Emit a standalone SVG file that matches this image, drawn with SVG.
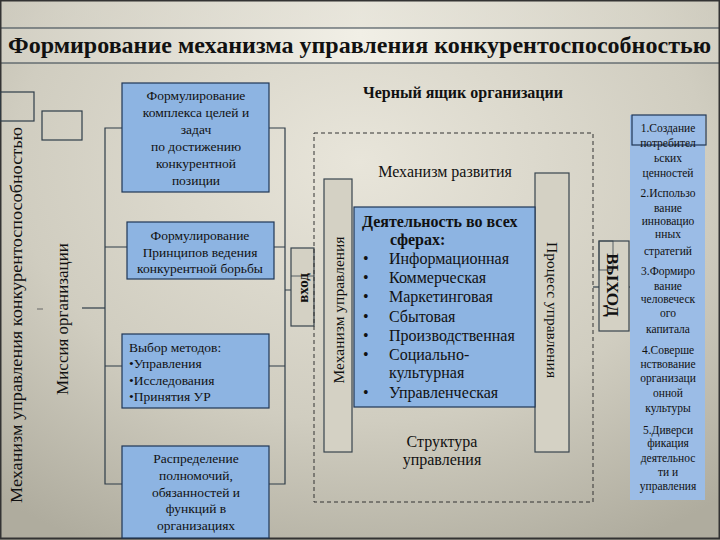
<svg xmlns="http://www.w3.org/2000/svg" width="720" height="540" viewBox="0 0 720 540" font-family="'Liberation Serif', 'Times New Roman', 'DejaVu Serif', serif">
<defs>
<radialGradient id="bg" cx="0.5" cy="0.3" r="0.8">
<stop offset="0" stop-color="#e8e5da"/>
<stop offset="0.6" stop-color="#d0cdc0"/>
<stop offset="1" stop-color="#afac9e"/>
</radialGradient>
<linearGradient id="band" x1="0" y1="0" x2="1" y2="0">
<stop offset="0" stop-color="#d2cfc3"/>
<stop offset="0.5" stop-color="#f1efe6"/>
<stop offset="1" stop-color="#d4d1c4"/>
</linearGradient>
<style>
text{fill:#111;}
.box{fill:#8db4e2;stroke:#1f3656;stroke-width:1.2;}
.bar{fill:#d4d1c4;stroke:#38444e;stroke-width:1.2;}
.ln{stroke:#2e3c48;stroke-width:1.2;fill:none;}
.dash{fill:none;stroke:#333;stroke-width:1;stroke-dasharray:4 3;}
.t{font-size:13.5px;text-anchor:middle;}
.tl{font-size:13.5px;}
.c{font-size:16px;}
.r{font-size:11.5px;text-anchor:middle;}
</style>
</defs>
<rect width="720" height="540" fill="url(#bg)"/>
<rect x="0" y="0" width="720" height="28" fill="url(#band)" opacity="0.6"/>
<rect x="0" y="28" width="720" height="35" fill="url(#band)"/>
<line x1="0" y1="28" x2="720" y2="28" stroke="#2e3c48" stroke-width="1.2"/>
<line x1="0" y1="63" x2="720" y2="63" stroke="#2e3c48" stroke-width="1.2"/>
<rect x="0.5" y="0.5" width="719" height="538" fill="none" stroke="#333" stroke-width="2"/>
<text x="8" y="53" font-size="24" font-weight="bold" textLength="703" lengthAdjust="spacingAndGlyphs">Формирование механизма управления конкурентоспособностью</text>

<g id="small-box-1"><rect x="0" y="92" width="34" height="29" class="ln"/></g>
<g id="small-box-2"><rect x="42" y="111" width="40" height="29" class="ln"/></g>

<g id="mechanism-label"><text transform="translate(22,315) rotate(-90)" font-size="17" text-anchor="middle" textLength="376" lengthAdjust="spacingAndGlyphs">Механизм управления конкурентоспособностью</text></g>
<g id="mission-label"><text transform="translate(68,319) rotate(-90)" font-size="17" text-anchor="middle">Миссия организации</text></g>

<g id="connectors">
<line x1="37" y1="309" x2="43" y2="309" stroke="#666" stroke-width="1"/>
<line x1="82" y1="308" x2="105" y2="308" class="ln"/>
<path class="ln" d="M122,128 H105 V484 H122 M105,247 H127 M105,366 H122"/>
<path class="ln" d="M269,128 H285 V484 H269 M274,247 H285 M269,366 H285 M285,290 H291"/>
<line x1="593" y1="287" x2="599" y2="287" class="ln"/>
<line x1="629" y1="287" x2="633" y2="287" class="ln"/>
</g>

<g id="box-goals">
<rect x="122" y="83" width="147" height="109" class="box"/>
<text class="t" x="196" y="100">Формулирование</text>
<text class="t" x="196" y="117">комплекса целей и</text>
<text class="t" x="196" y="134">задач</text>
<text class="t" x="196" y="151">по достижению</text>
<text class="t" x="196" y="168">конкурентной</text>
<text class="t" x="196" y="185">позиции</text>
</g>
<g id="box-principles">
<rect x="127" y="222" width="147" height="57" class="box"/>
<text class="t" x="200" y="240">Формулирование</text>
<text class="t" x="200" y="257">Принципов ведения</text>
<text class="t" x="200" y="273">конкурентной борьбы</text>
</g>
<g id="box-methods">
<rect x="122" y="334" width="147" height="74" class="box"/>
<text class="tl" x="129" y="352">Выбор методов:</text>
<text class="tl" x="129" y="368">•Управления</text>
<text class="tl" x="129" y="385">•Исследования</text>
<text class="tl" x="129" y="401">•Принятия УР</text>
</g>
<g id="box-distribution">
<rect x="122" y="446" width="147" height="92" class="box"/>
<text class="t" x="196" y="463">Распределение</text>
<text class="t" x="196" y="480">полномочий,</text>
<text class="t" x="196" y="497">обязанностей и</text>
<text class="t" x="196" y="513">функций в</text>
<text class="t" x="196" y="530">организациях</text>
</g>

<g id="input">
<rect x="291" y="248" width="23" height="78" class="bar"/>
<line x1="291" y1="276" x2="314" y2="276" stroke="#38444e" stroke-width="0.8"/>
<text transform="translate(308,288) rotate(-90)" font-size="15" font-weight="bold" text-anchor="middle">вход</text>
</g>

<g id="black-box">
<rect x="314" y="133" width="279" height="369" class="dash"/>
<text x="463" y="98" font-size="16" font-weight="bold" text-anchor="middle">Черный ящик организации</text>
<text x="445" y="177" font-size="16" text-anchor="middle">Механизм развития</text>
<text x="442" y="447" font-size="16" text-anchor="middle">Структура</text>
<text x="442" y="465" font-size="16" text-anchor="middle">управления</text>
</g>

<g id="bar-mechanism">
<rect x="324" y="179" width="28" height="273" class="bar"/>
<text transform="translate(344,310) rotate(-90)" font-size="15.5" text-anchor="middle">Механизм управления</text>
</g>
<g id="bar-process">
<rect x="535" y="173" width="34" height="279" class="bar"/>
<text transform="translate(547,310) rotate(90)" font-size="15.5" text-anchor="middle">Процесс управления</text>
</g>

<g id="box-activity">
<rect x="354" y="207" width="181" height="200" class="box"/>
<text class="c" x="362" y="227" font-weight="bold">Деятельность во всех</text>
<text class="c" x="390" y="245" font-weight="bold">сферах:</text>
<text class="c" x="363" y="264">•</text><text class="c" x="389" y="264">Информационная</text>
<text class="c" x="363" y="283">•</text><text class="c" x="389" y="283">Коммерческая</text>
<text class="c" x="363" y="302">•</text><text class="c" x="389" y="302">Маркетинговая</text>
<text class="c" x="363" y="322">•</text><text class="c" x="389" y="322">Сбытовая</text>
<text class="c" x="363" y="341">•</text><text class="c" x="389" y="341">Производственная</text>
<text class="c" x="363" y="360">•</text><text class="c" x="389" y="360">Социально-</text>
<text class="c" x="389" y="378">культурная</text>
<text class="c" x="363" y="398">•</text><text class="c" x="389" y="398">Управленческая</text>
</g>

<g id="output">
<rect x="599" y="241" width="30" height="90" class="bar"/>
<rect x="599" y="241" width="14" height="29" fill="none" stroke="#38444e" stroke-width="0.8"/>
<text transform="translate(607,285) rotate(90)" font-size="17" font-weight="bold" text-anchor="middle">ВЫХОД</text>
</g>

<g id="results">
<rect x="630" y="115" width="75" height="385" fill="#9bbce6"/>
<rect x="632" y="115" width="74" height="30" fill="none" stroke="#1f3656" stroke-width="1.2"/>
<text class="r" x="668" y="132">1.Создание</text>
<text class="r" x="668" y="147">потребител</text>
<text class="r" x="668" y="162">ьских</text>
<text class="r" x="668" y="177">ценностей</text>
<text class="r" x="668" y="197">2.Использо</text>
<text class="r" x="668" y="212">вание</text>
<text class="r" x="668" y="225">инновацио</text>
<text class="r" x="668" y="238">нных</text>
<text class="r" x="668" y="255">стратегий</text>
<text class="r" x="668" y="275">3.Формиро</text>
<text class="r" x="668" y="290">вание</text>
<text class="r" x="668" y="303">человеческ</text>
<text class="r" x="668" y="317">ого</text>
<text class="r" x="668" y="333">капитала</text>
<text class="r" x="668" y="354">4.Соверше</text>
<text class="r" x="668" y="368">нствование</text>
<text class="r" x="668" y="382">организаци</text>
<text class="r" x="668" y="397">онной</text>
<text class="r" x="668" y="412">культуры</text>
<text class="r" x="668" y="434">5.Диверси</text>
<text class="r" x="668" y="447">фикация</text>
<text class="r" x="668" y="462">деятельнос</text>
<text class="r" x="668" y="476">ти и</text>
<text class="r" x="668" y="490">управления</text>
</g>
</svg>
